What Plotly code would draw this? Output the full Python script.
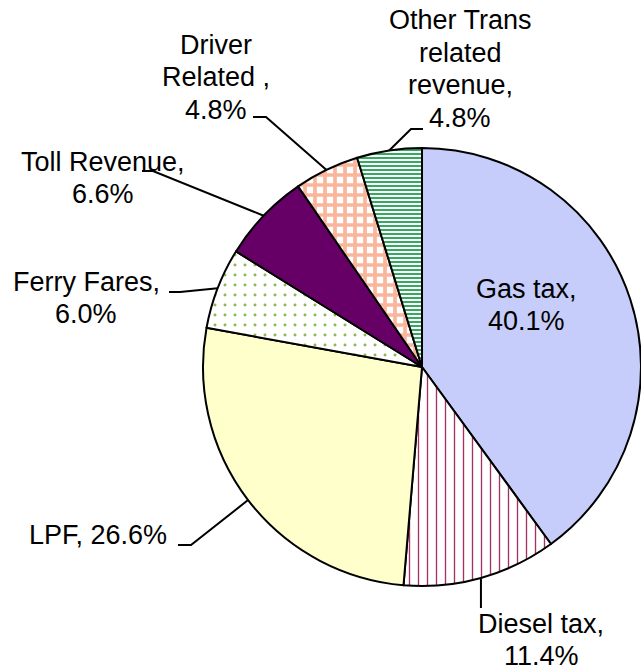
import math
import plotly.graph_objects as go

# ---- data ----
categories = ["Gas tax", "Diesel tax", "LPF", "Ferry Fares", "Toll Revenue",
              "Driver Related ", "Other Trans related revenue"]
values = [40.1, 11.4, 26.6, 6.0, 6.6, 4.8, 4.8]
label_lines = [["Gas tax,", "40.1%"], ["Diesel tax,", "11.4%"], ["LPF, 26.6%"],
               ["Ferry Fares,", "6.0%"], ["Toll Revenue,", "6.6%"],
               ["Driver", "Related ,", "4.8%"], ["Other Trans", "related", "revenue,", "4.8%"]]

# ---- styles ----
base_colors = ["#C6CDFA", "#FFFFFF", "#FFFFCC", "#FFFFFF", "#660066", "#FFFFFF", "#FFFFFF"]
pat_shapes = ["", "|", "", ".", "", "+", "-"]
pat_fg = ["#000000", "#A33366", "#000000", "#8DB84F", "#000000", "#F9B69B", "#1DA04F"]
pat_size = [8, 9, 8, 10, 8, 10, 4]
pat_solid = [0.3, 0.15, 0.3, 0.07, 0.3, 0.6, 0.45]

W, H = 641, 670
CX, CY, R = 422, 367, 219
LS = 32.5  # line spacing in px

# label block centers (pixels) and leader elbow/end points (pixels)
label_pos = [(526, 305), (541, 640), (98, 535), (86, 298), (103, 178), (216, 77), (460, 69)]
leader_pts = [None, ("v", 608), ((191, 545), (178, 545)), ((180, 292), (169, 292)),
              ((153, 171), (142, 171)), ((266, 117), (253, 117)), ((411, 129), (423, 129))]


def px(x):
    return x / W


def py(y):
    return 1 - y / H


fig = go.Figure(go.Pie(
    labels=categories, values=values, sort=False, direction="clockwise", rotation=0,
    textinfo="none", hoverinfo="label+percent",
    marker=dict(colors=base_colors, line=dict(color="black", width=2),
                pattern=dict(shape=pat_shapes, fgcolor=pat_fg, size=pat_size,
                             solidity=pat_solid, fillmode="replace")),
    domain=dict(x=[px(CX - R), px(CX + R)], y=[py(CY + R), py(CY - R)]),
    showlegend=False,
))

total = sum(values)
cum = 0
shapes = []
for i, v in enumerate(values):
    mid = (cum + v / 2) / total * 2 * math.pi
    cum += v
    pt = leader_pts[i]
    if pt is None:
        continue
    ax = CX + R * math.sin(mid)
    ay = CY - R * math.cos(mid)
    if pt[0] == "v":
        path = f"M {px(ax)} {py(ay)} L {px(ax)} {py(pt[1])}"
    else:
        (ex, ey), (fx, fy) = pt
        path = f"M {px(ax)} {py(ay)} L {px(ex)} {py(ey)} L {px(fx)} {py(fy)}"
    shapes.append(dict(type="path", path=path, xref="paper", yref="paper",
                       line=dict(color="black", width=2)))

annotations = []
for lines, (lx, ly) in zip(label_lines, label_pos):
    n = len(lines)
    for k, txt in enumerate(lines):
        yy = ly + (k - (n - 1) / 2) * LS
        annotations.append(dict(text=txt, x=px(lx), y=py(yy), xref="paper", yref="paper",
                                xanchor="center", yanchor="middle", align="center",
                                showarrow=False,
                                font=dict(family="Liberation Sans, Arial", size=27,
                                          color="black")))

fig.update_layout(width=W, height=H, margin=dict(l=0, r=0, t=0, b=0),
                  paper_bgcolor="white", plot_bgcolor="white",
                  shapes=shapes, annotations=annotations)

fig.write_html("out.html", config={"displayModeBar": False},
               post_script="document.body.style.margin='0';document.body.style.overflow='hidden';")
